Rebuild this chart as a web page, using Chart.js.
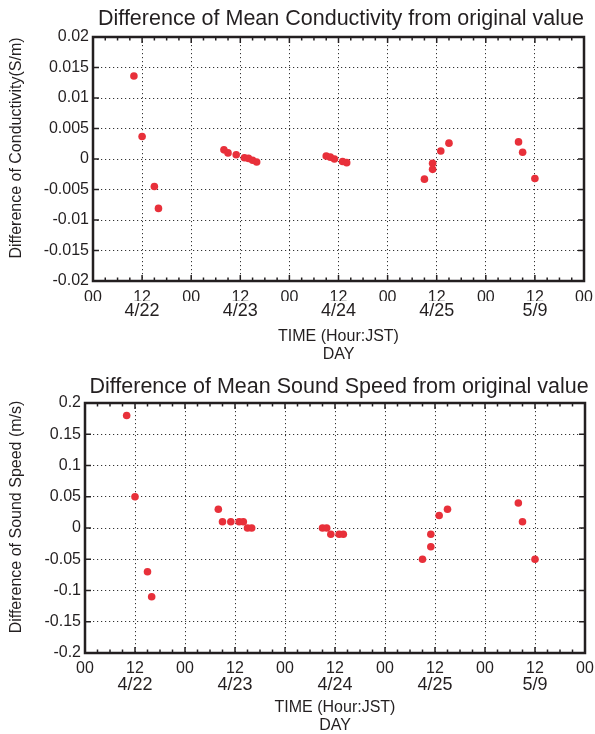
<!DOCTYPE html>
<html lang="en">
<head>
<meta charset="utf-8">
<title>Difference of Mean Conductivity / Sound Speed</title>
<script src="https://cdn.jsdelivr.net/npm/chart.js@4/dist/chart.umd.min.js"></script>
<style>
	body { margin: 0; background: #fff; }
	canvas { position: absolute; left: 0; }
</style>
</head>
<body>
<canvas id="chartCond" width="595" height="367" style="top:0"></canvas>
<canvas id="chartSpeed" width="595" height="367" style="top:367px"></canvas>
<script>
// time of each measurement, hours from 00 of the first day
const hours = [10, 12, 15, 16, 32, 33, 35, 37, 38, 39, 40, 57, 58, 59, 61, 62, 81, 83, 83, 85, 87, 104, 105, 108];
// difference of mean conductivity (S/m)
const condValues = [0.0136, 0.0037, -0.0045, -0.0081, 0.0015, 0.0010, 0.0007, 0.0002, 0.0001, -0.0002, -0.0005,
	0.0005, 0.0003, 0.0000, -0.0004, -0.0006, -0.0033, -0.0007, -0.0017, 0.0013, 0.0026, 0.0028, 0.0011, -0.0032];
// difference of mean sound speed (m/s)
const speedValues = [0.18, 0.05, -0.07, -0.11, 0.03, 0.01, 0.01, 0.01, 0.01, 0, 0,
	0, 0, -0.01, -0.01, -0.01, -0.05, -0.03, -0.01, 0.02, 0.03, 0.04, 0.01, -0.05];

const hourTicks = [0, 12, 24, 36, 48, 60, 72, 84, 96, 108, 120];
const hourLabels = ['00', '12', '00', '12', '00', '12', '00', '12', '00', '12', '00'];
const dayTicks = [12, 36, 60, 84, 108];
const dayLabels = ['4/22', '4/23', '4/24', '4/25', '5/9'];
const condTicks = [-0.02, -0.015, -0.01, -0.005, 0, 0.005, 0.01, 0.015, 0.02];
const speedTicks = [-0.2, -0.15, -0.1, -0.05, 0, 0.05, 0.1, 0.15, 0.2];

const ink = '#231f20';
const police = "'Liberation Sans', Arial, Helvetica, sans-serif";
Chart.defaults.font.family = police;
Chart.defaults.color = ink;

// frame, inward ticks, title and y title
const cadre = {
	id: 'cadre',
	afterDraw(chart, args, o) {
		const ctx = chart.ctx, a = chart.chartArea;
		const x = chart.scales.x, y = chart.scales.y;
		const line = (x1, y1, x2, y2) => { ctx.beginPath(); ctx.moveTo(x1, y1); ctx.lineTo(x2, y2); ctx.stroke(); };
		ctx.save();
		ctx.fillStyle = ink;
		ctx.textAlign = 'center';
		ctx.textBaseline = 'middle';
		ctx.font = '21.5px ' + police;
		ctx.fillText(o.titre, o.titreX, o.titreY);
		ctx.save();
		ctx.translate(o.axeX, o.axeY);
		ctx.rotate(-Math.PI / 2);
		ctx.font = '16px ' + police;
		ctx.fillText(o.axe, 0, 0);
		ctx.restore();

		ctx.strokeStyle = ink;
		ctx.lineWidth = 1.5;
		for (let h = 0; h <= 120; h += 3) {
			const px = x.getPixelForValue(h);
			const len = h % 12 === 0 ? 6 : 3.5;
			line(px, a.bottom, px, a.bottom - len);
			line(px, a.top, px, a.top + len);
		}
		for (const v of o.yTicks) {
			const py = y.getPixelForValue(v);
			line(a.left, py, a.left + 6, py);
			line(a.right, py, a.right - 6, py);
		}
		ctx.lineWidth = 2.5;
		ctx.strokeRect(a.left, a.top, a.right - a.left, a.bottom - a.top);
		ctx.restore();
	}
};

function tracer(id, values, yTicks, g) {
	const points = hours.map(function (h, i) { return {x: h, y: values[i]}; });
	return new Chart(document.getElementById(id), {
		type: 'scatter',
		data: {
			datasets: [{
				data: points,
				backgroundColor: 'rgb(232, 48, 58)',
				borderWidth: 0,
				pointRadius: 3.8
			}]
		},
		plugins: [cadre],
		options: {
			responsive: false,
			animation: false,
			devicePixelRatio: 1,
			layout: { padding: { top: g.top, right: g.right, left: 0, bottom: 0 } },
			plugins: {
				legend: { display: false },
				tooltip: { enabled: false },
				cadre: g.cadre
			},
			scales: {
				x: {
					type: 'linear', position: 'bottom', weight: 0,
					min: 0, max: 120,
					afterBuildTicks: function (s) { s.ticks = hourTicks.map(function (v) { return {value: v}; }); },
					afterFit: function (s) { s.height = g.hourH; s.paddingLeft = 0; s.paddingRight = 0; },
					ticks: {
						autoSkip: false, maxRotation: 0, padding: g.hourPad,
						font: { size: 16, lineHeight: 1 },
						callback: function (v, i) { return hourLabels[i]; }
					},
					grid: { color: '#333', lineWidth: 1, drawTicks: false },
					border: { display: false, dash: [1.2, 2.8] }
				},
				xDay: {
					type: 'linear', position: 'bottom', weight: 1,
					min: 0, max: 120,
					afterBuildTicks: function (s) { s.ticks = dayTicks.map(function (v) { return {value: v}; }); },
					afterFit: function (s) { s.height = g.dayH; s.paddingLeft = 0; s.paddingRight = 0; },
					ticks: {
						autoSkip: false, maxRotation: 0, padding: g.dayPad,
						font: { size: 18, lineHeight: 1 },
						callback: function (v, i) { return dayLabels[i]; }
					},
					grid: { display: false, drawTicks: false },
					border: { display: false },
					title: {
						display: true,
						text: ['TIME (Hour:JST)', 'DAY'],
						font: { size: 16, lineHeight: g.titleLH },
						padding: { top: 0, bottom: g.titlePad }
					}
				},
				y: {
					type: 'linear', position: 'left',
					min: yTicks[0], max: yTicks[yTicks.length - 1],
					afterBuildTicks: function (s) { s.ticks = yTicks.map(function (v) { return {value: v}; }); },
					afterFit: function (s) { s.width = g.left; },
					ticks: {
						padding: 4,
						font: { size: 16 },
						callback: function (v) { return String(v); }
					},
					grid: { color: '#333', lineWidth: 1, drawTicks: false },
					border: { display: false, dash: [1.2, 2.8] }
				}
			}
		}
	});
}

tracer('chartCond', condValues, condTicks, {
	top: 37, right: 11, left: 93,
	hourH: 20, hourPad: 8.5, dayH: 66, dayPad: 1, titleLH: 1.1, titlePad: 4,
	cadre: {
		titre: 'Difference of Mean Conductivity from original value', titreX: 341, titreY: 19,
		axe: 'Difference of Conductivity(S/m)', axeX: 17, axeY: 148,
		yTicks: condTicks
	}
});

tracer('chartSpeed', speedValues, speedTicks, {
	top: 36, right: 10, left: 85,
	hourH: 22, hourPad: 7.4, dayH: 59, dayPad: 1, titleLH: 1.15, titlePad: -1,
	cadre: {
		titre: 'Difference of Mean Sound Speed from original value', titreX: 339, titreY: 20,
		axe: 'Difference of Sound Speed (m/s)', axeX: 17, axeY: 150,
		yTicks: speedTicks
	}
});
</script>
</body>
</html>
